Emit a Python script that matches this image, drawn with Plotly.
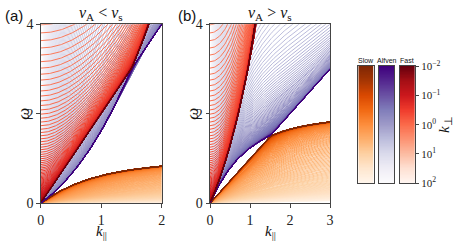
import numpy as np
import plotly.graph_objects as go
import plotly.colors as pc

# ---------------- data / parameters ----------------
PANEL_LABELS = ["(a)", "(b)"]
PANEL_TITLES = ["<i>v</i><sub>A</sub> &lt; <i>v</i><sub>s</sub>",
                "<i>v</i><sub>A</sub> &gt; <i>v</i><sub>s</sub>"]
V_ALFVEN = [1.0, 2.0]          # Alfven speed per panel
V_SOUND = [2.0, 1.0]           # sound speed per panel
ION_INERTIAL_LENGTH = 1.0
K_PAR_MAX = [2.0, 3.0]
N_K_PAR = 140
LOG_K_PERP_RANGE = [-2.0, 2.0]
N_K_PERP = 200
X_TICKS = [[0, 1, 2], [0, 1, 2, 3]]
Y_TICKS = [0, 2, 4]
Y_MAX = 4.0
MODES = ["Slow", "Alfven", "Fast"]
MODE_SCALES = ["Oranges", "Purples", "Reds"]
CBAR_TICKS = [-2, -1, 0, 1, 2]
CBAR_TICKTEXT = ["10<sup>−2</sup>", "10<sup>−1</sup>", "10<sup>0</sup>",
                 "10<sup>1</sup>", "10<sup>2</sup>"]

log_kperp = np.linspace(LOG_K_PERP_RANGE[0], LOG_K_PERP_RANGE[1], N_K_PERP)
k_perp = 10.0 ** log_kperp


def hall_mhd_branches(kpar, kperp, vA, cs, d):
    KP, KQ = np.meshgrid(kpar, kperp)
    k2 = KP ** 2 + KQ ** 2
    a = KP ** 2 * vA ** 2
    b = k2 * (vA ** 2 + cs ** 2)
    c = KP ** 2 * k2 * vA ** 2 * cs ** 2
    e = KP ** 2 * k2 * vA ** 2 * d ** 2
    f = k2 * cs ** 2
    p2 = -(a + b + e)
    p1 = a * b + c + e * f
    p0 = -a * c
    M = np.zeros(KP.shape + (3, 3))
    M[..., 0, 0] = -p2
    M[..., 0, 1] = -p1
    M[..., 0, 2] = -p0
    M[..., 1, 0] = 1.0
    M[..., 2, 1] = 1.0
    ev = np.linalg.eigvals(M).real
    ev = np.clip(ev, 0, None)
    ev.sort(axis=-1)
    return np.sqrt(ev)  # shape (nperp, npar, 3)


fig = go.Figure()

LINE_COLOR = "#444444"
SERIF = "Liberation Serif"
SANS = "Liberation Sans"
PAR = "<i>k</i><sub>||</sub>"

for p in range(2):
    kpar = np.linspace(0, K_PAR_MAX[p], N_K_PAR)
    om = hall_mhd_branches(kpar, k_perp, V_ALFVEN[p], V_SOUND[p], ION_INERTIAL_LENGTH)
    xa = "x" if p == 0 else "x2"
    ya = "y" if p == 0 else "y2"
    for m in range(3):
        fracs = 1 - (log_kperp - LOG_K_PERP_RANGE[0]) / (LOG_K_PERP_RANGE[1] - LOG_K_PERP_RANGE[0])
        cols = pc.sample_colorscale(MODE_SCALES[m], list(fracs))
        for i in range(N_K_PERP - 1, -1, -1):
            y = om[i, :, m]
            if np.nanmin(y) > Y_MAX * 1.02:
                continue
            fig.add_trace(go.Scatter(
                x=np.round(kpar, 4), y=np.round(y, 4), mode="lines",
                line=dict(color=cols[i], width=1),
                xaxis=xa, yaxis=ya, showlegend=False, hoverinfo="skip"))

# colour bars as heatmaps
for m in range(3):
    idx = m + 3
    fig.add_trace(go.Heatmap(
        z=log_kperp.reshape(-1, 1), y=log_kperp, x=[0],
        colorscale=MODE_SCALES[m], reversescale=True,
        zmin=LOG_K_PERP_RANGE[0], zmax=LOG_K_PERP_RANGE[1],
        showscale=False, xaxis=f"x{idx}", yaxis=f"y{idx}", hoverinfo="skip"))

W, H = 457, 248
def px_x(v):
    return v / W
def px_y(v):
    return 1 - v / H

axis_common = dict(showline=True, linecolor=LINE_COLOR, linewidth=1, mirror=True,
                   ticks="outside", ticklen=3.5, tickwidth=1, tickcolor=LINE_COLOR,
                   showgrid=False, zeroline=False, automargin=False,
                   tickfont=dict(family=SERIF, size=14, color="#222"))

ydom = [px_y(203.3), px_y(24.3)]
fig.update_layout(
    width=W, height=H, margin=dict(l=0, r=0, t=0, b=0, autoexpand=False),
    paper_bgcolor="white", plot_bgcolor="white",
    xaxis=dict(domain=[px_x(40.7), px_x(161.7)], range=[0, K_PAR_MAX[0]],
               tickvals=X_TICKS[0], anchor="y", **axis_common),
    yaxis=dict(domain=ydom, range=[0, Y_MAX], tickvals=Y_TICKS, anchor="x", **axis_common),
    xaxis2=dict(domain=[px_x(210), px_x(330)], range=[0, K_PAR_MAX[1]],
                tickvals=X_TICKS[1], anchor="y2", **axis_common),
    yaxis2=dict(domain=ydom, range=[0, Y_MAX], tickvals=Y_TICKS, anchor="x2", **axis_common),
)

cb_x = [(358.3, 373.7), (379.0, 394.3), (399.7, 415.0)]
cb_ydom = [px_y(183.3), px_y(66.0)]
half = (log_kperp[1] - log_kperp[0]) / 2
for m in range(3):
    idx = m + 3
    fig.layout[f"xaxis{idx}"] = dict(domain=[px_x(cb_x[m][0]), px_x(cb_x[m][1])],
                                     range=[-0.5, 0.5], showticklabels=False, ticks="",
                                     showline=True, mirror=True, linecolor=LINE_COLOR,
                                     linewidth=1, showgrid=False, zeroline=False,
                                     automargin=False, anchor=f"y{idx}")
    ydict = dict(domain=cb_ydom, range=[LOG_K_PERP_RANGE[1] + half, LOG_K_PERP_RANGE[0] - half],
                 showline=True, mirror=True, linecolor=LINE_COLOR, linewidth=1,
                 showgrid=False, zeroline=False, automargin=False, anchor=f"x{idx}")
    if m == 2:
        ydict.update(side="right", tickvals=CBAR_TICKS, ticktext=CBAR_TICKTEXT,
                     ticks="outside", ticklen=3, tickcolor=LINE_COLOR,
                     tickfont=dict(family=SERIF, size=11, color="#222"))
    else:
        ydict.update(showticklabels=False, ticks="")
    fig.layout[f"yaxis{idx}"] = ydict
    fig.add_annotation(text=MODES[m], x=px_x((cb_x[m][0] + cb_x[m][1]) / 2), y=px_y(60),
                       xref="paper", yref="paper", showarrow=False,
                       xanchor="center", yanchor="middle",
                       font=dict(family=SANS, size=7, color="#111"))

# panel labels
for txt, cx in zip(PANEL_LABELS, [14, 187]):
    fig.add_annotation(text=txt, x=px_x(cx), y=px_y(15), xref="paper", yref="paper",
                       showarrow=False, xanchor="center", yanchor="middle",
                       font=dict(family=SANS, size=15, color="#111"))
# titles and axis labels
for p, cx in enumerate([101.2, 270.0]):
    fig.add_annotation(text=PANEL_TITLES[p], x=px_x(cx), y=px_y(14), xref="paper", yref="paper",
                       showarrow=False, xanchor="center", yanchor="middle",
                       font=dict(family=SERIF, size=16, color="#111"))
    fig.add_annotation(text=PAR, x=px_x(cx), y=px_y(232), xref="paper",
                       yref="paper", showarrow=False, xanchor="center", yanchor="middle",
                       font=dict(family=SERIF, size=15, color="#111"))
for cx in [24.0, 193.0]:
    fig.add_annotation(text="<i>ω</i>", x=px_x(cx), y=px_y(113.8), xref="paper", yref="paper",
                       showarrow=False, xanchor="center", yanchor="middle", textangle=-90,
                       font=dict(family=SERIF, size=17, color="#111"))
fig.add_annotation(text="<i>k</i><sub>⊥</sub>", x=px_x(445), y=px_y(125), xref="paper",
                   yref="paper", showarrow=False, xanchor="center", yanchor="middle",
                   textangle=-90, font=dict(family=SERIF, size=15, color="#111"))

fig.write_html("out.html", config={"staticPlot": True, "displayModeBar": False},
               post_script="document.body.style.margin='0px';document.body.style.overflow='hidden';")
